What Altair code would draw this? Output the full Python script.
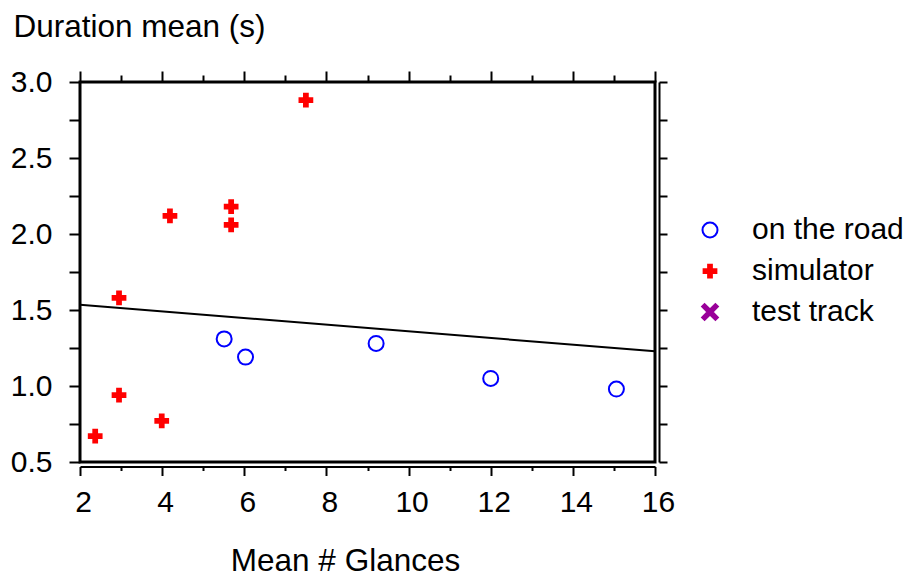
import altair as alt
import pandas as pd

# ---- data ----
road_x = [5.51, 6.03, 9.21, 12.0, 15.06]
road_y = [1.31, 1.19, 1.28, 1.05, 0.98]
sim_x = [2.37, 2.95, 2.95, 3.99, 4.19, 5.68, 5.68, 7.50]
sim_y = [0.67, 0.94, 1.58, 0.77, 2.12, 2.18, 2.06, 2.88]
fit_x = [2, 16]
fit_y = [1.535, 1.228]
categories = ["on the road", "simulator", "test track"]
stroke_colors = ["#0000ff", "#ff0000", "#990099"]
fill_colors = ["transparent", "#ff0000", "#990099"]
x_ticks = list(range(2, 17))
y_ticks = [0.5 + 0.25 * i for i in range(11)]

PLUS = ("M-0.85,-0.25L-0.25,-0.25L-0.25,-0.85L0.25,-0.85L0.25,-0.25L0.85,-0.25"
        "L0.85,0.25L0.25,0.25L0.25,0.85L-0.25,0.85L-0.25,0.25L-0.85,0.25Z")
XSHAPE = ("M-0.72,-1.05L0,-0.33L0.72,-1.05L1.05,-0.72L0.33,0L1.05,0.72L0.72,1.05"
          "L0,0.33L-0.72,1.05L-1.05,0.72L-0.33,0L-1.05,-0.72Z")
shapes = ["circle", PLUS, XSHAPE]

pts = pd.DataFrame({
    "x": road_x + sim_x,
    "y": road_y + sim_y,
    "cat": ["on the road"] * len(road_x) + ["simulator"] * len(sim_x),
})
fit = pd.DataFrame({"x": fit_x, "y": fit_y})

FONT = "Liberation Sans"

xscale = alt.Scale(domain=[2, 16], nice=False, zero=False)
yscale = alt.Scale(domain=[0.5, 3.0], nice=False, zero=False)

legend = alt.Legend(
    title=None, orient="none", legendX=615, legendY=133, padding=0,
    labelFontSize=30, labelFont=FONT, labelColor="black", labelOffset=27,
    symbolSize=225, symbolStrokeWidth=2, rowPadding=11,
)

bottom_axis = alt.Axis(
    orient="bottom", offset=4.5, values=x_ticks, format="d",
    labelExpr="datum.value % 2 === 0 ? datum.label : ''",
    tickSize={"condition": {"test": "datum.value % 2 === 0", "value": 9}, "value": 4},
    labelFontSize=30, labelPadding=12, labelOffset=3, labelFlush=False, labelOverlap=False,
    domain=True, domainWidth=2, tickWidth=2,
    title="Mean # Glances", titleFontSize=31.5, titleFontWeight="normal",
    titleX=265, titleY=104, titleAlign="center", titleBaseline="alphabetic",
    titleAngle=0,
)
left_axis = alt.Axis(
    orient="left", values=y_ticks, format=".1f",
    labelExpr="(datum.value * 4) % 2 === 0 ? datum.label : ''",
    tickSize=11, labelFontSize=30, labelPadding=17, labelFlush=False, labelOverlap=False,
    domain=False, tickWidth=2,
    title="Duration mean (s)", titleFontSize=31.5, titleFontWeight="normal",
    titleAngle=0, titleX=-67, titleY=-46, titleAlign="left", titleBaseline="alphabetic",
)
top_axis = alt.Axis(
    orient="top", values=x_ticks, labels=False, domain=False, title=None,
    tickSize={"condition": {"test": "datum.value % 2 === 0", "value": 11}, "value": 7},
    tickWidth=2,
)
right_axis = alt.Axis(
    orient="right", values=y_ticks, labels=False, title=None, offset=4,
    domain=True, domainWidth=2, tickSize=8, tickWidth=2,
)

points = alt.Chart(pts).mark_point(size=225, strokeWidth=2, opacity=1).encode(
    x=alt.X("x:Q", scale=xscale, axis=bottom_axis),
    y=alt.Y("y:Q", scale=yscale, axis=left_axis),
    stroke=alt.Stroke("cat:N", scale=alt.Scale(domain=categories, range=stroke_colors), legend=legend),
    fill=alt.Fill("cat:N", scale=alt.Scale(domain=categories, range=fill_colors), legend=legend),
    shape=alt.Shape("cat:N", scale=alt.Scale(domain=categories, range=shapes), legend=legend),
)

line = alt.Chart(fit).mark_line(color="black", strokeWidth=2).encode(
    x=alt.X("x:Q", scale=xscale, axis=top_axis),
    y=alt.Y("y:Q", scale=yscale, axis=right_axis),
)

chart = alt.layer(points, line).resolve_scale(
    x="independent", y="independent"
).properties(
    width=575, height=380,
    autosize=alt.AutoSizeParams(type="none"),
    padding={"left": 72, "top": 74, "right": 253, "bottom": 116},
    background="white",
).configure(
    font=FONT,
).configure_view(
    stroke="black", strokeWidth=3,
).configure_axis(
    grid=False, domainColor="black", tickColor="black", labelColor="black",
    titleColor="black", labelFont=FONT, titleFont=FONT,
)

chart.save("out.html", embed_options={"renderer": "svg", "actions": False})
